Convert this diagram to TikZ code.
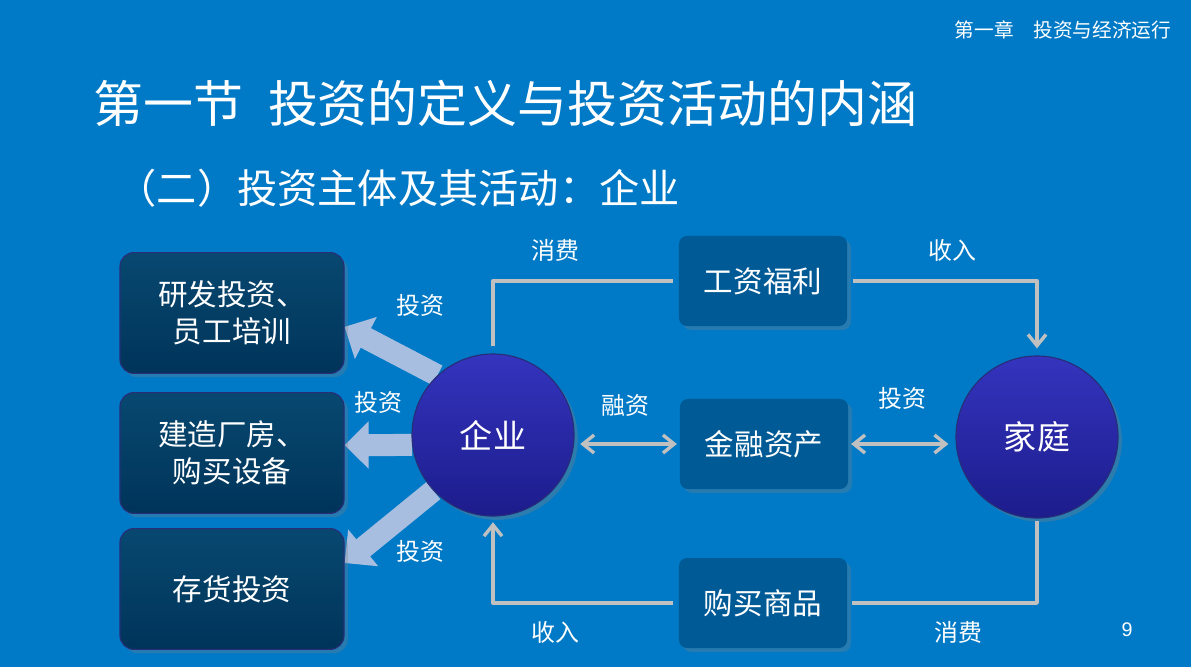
\documentclass[tikz,border=0pt]{standalone}
\usepackage{fontspec}
\setmainfont{Noto Sans CJK SC}
\newfontfamily\numfont{Liberation Sans}
\usetikzlibrary{arrows.meta,shadows,backgrounds}
\definecolor{slidebg}{RGB}{0,122,198}
\definecolor{boxtop}{RGB}{8,72,112}
\definecolor{boxbot}{RGB}{0,52,90}
\definecolor{boxline}{RGB}{40,45,120}
\definecolor{midbox}{RGB}{0,90,150}
\definecolor{balltop}{RGB}{52,52,190}
\definecolor{ballbot}{RGB}{28,28,140}
\definecolor{linegray}{RGB}{192,192,192}
\definecolor{fatblue}{RGB}{168,190,225}
\begin{document}
\begin{tikzpicture}[x=0.025cm,y=-0.025cm,line join=round,text=white,
	leftbox/.style={rounded corners=0.35cm,minimum width=5.6cm,minimum height=3.02cm,
		top color=boxtop,bottom color=boxbot,draw=boxline,line width=0.8pt,
		align=center,font=\fontsize{21}{26.3}\selectfont,drop shadow={opacity=0.3}},
	ball/.style={circle,minimum size=4.05cm,inner sep=0pt,top color=balltop,bottom color=ballbot,
		draw=boxline,line width=0.8pt,font=\fontsize{23.5}{28}\selectfont,drop shadow={opacity=0.35}},
	midbox/.style={rounded corners=0.2cm,minimum width=4.2cm,minimum height=2.25cm,fill=midbox,
		font=\fontsize{21}{26}\selectfont,drop shadow={opacity=0.3}},
	flow/.style={draw=linegray,line width=2.4pt},
	barb/.style={-{Straight Barb[length=0.28cm,width=0.45cm]}},
	dbarb/.style={{Straight Barb[length=0.28cm,width=0.45cm]}-{Straight Barb[length=0.28cm,width=0.45cm]}},
	fatarrow/.style={draw=fatblue,line width=0.55cm,-{Triangle[length=0.6cm,width=1.15cm]}},
	lab/.style={font=\fontsize{17}{20}\selectfont}]
	% Kopfzeile und Titel
	\node[font=\fontsize{14}{16}\selectfont] (kopf) at (1063,30) {第一章　投资与经济运行};
	\node[anchor=west,inner sep=0pt,font=\fontsize{35.5}{40}\selectfont] (titel) at (93,103) {第一节\hspace{0.5em}投资的定义与投资活动的内涵};
	\node[anchor=east,inner sep=0pt,font=\fontsize{28.6}{32}\selectfont] (untertitel) at (680,188) {（二）投资主体及其活动：企业};
	% linke Kaesten
	\node[leftbox] (yf) at (232,313) {研发投资、\\员工培训};
	\node[leftbox] (jz) at (232,453) {建造厂房、\\购买设备};
	\node[leftbox] (ch) at (232,589) {存货投资};
	% Kreise
	\node[ball] (qiye) at (493,435) {企业};
	\node[ball] (jiating) at (1037,437) {家庭};
	% mittlere Kaesten
	\node[midbox] (gzfl) at (763,281) {工资福利};
	\node[midbox] (jrzc) at (764,444) {金融资产};
	\node[midbox] (gmsp) at (763,603) {购买商品};
	% Hintergrund und dicke Pfeile nach links
	\begin{scope}[on background layer]
		\fill[slidebg] (0,0) rectangle (1191,667);
		\draw[fatarrow] (qiye.133) -- (yf.-7);
		\draw[fatarrow] (qiye.187) -- (jz.4);
		\draw[fatarrow] (qiye.223) -- (ch.13);
	\end{scope}
	% Kreislauf
	\draw[flow,shorten <=5pt,shorten >=4pt] (qiye.north) |- (gzfl.west);
	\draw[flow,barb,shorten <=4pt,shorten >=5pt] (gzfl.east) -| (jiating.north);
	\draw[flow,shorten <=2pt,shorten >=3pt] (jiating.south) |- (gmsp.east);
	\draw[flow,barb,shorten <=4pt,shorten >=4pt] (gmsp.west) -| (qiye.south);
	\draw[flow,dbarb,shorten <=4pt,shorten >=2pt] (qiye.east |- jrzc.west) -- (jrzc.west);
	\draw[flow,dbarb,shorten <=2pt,shorten >=5pt] (jrzc.east) -- (jrzc.east -| jiating.west);
	% Beschriftungen
	\node[lab] (l1) at (420,305) {投资};
	\node[lab] (l2) at (378,402) {投资};
	\node[lab] (l3) at (420,551) {投资};
	\node[lab] (l4) at (625,405) {融资};
	\node[lab] (l5) at (902,398) {投资};
	\node[lab] (l6) at (555,250) {消费};
	\node[lab] (l7) at (952,250) {收入};
	\node[lab] (l8) at (555,632) {收入};
	\node[lab] (l9) at (958,632) {消费};
	\node[font=\numfont\fontsize{14}{16}\selectfont] (seite) at (1127,630) {9};
\end{tikzpicture}
\end{document}
